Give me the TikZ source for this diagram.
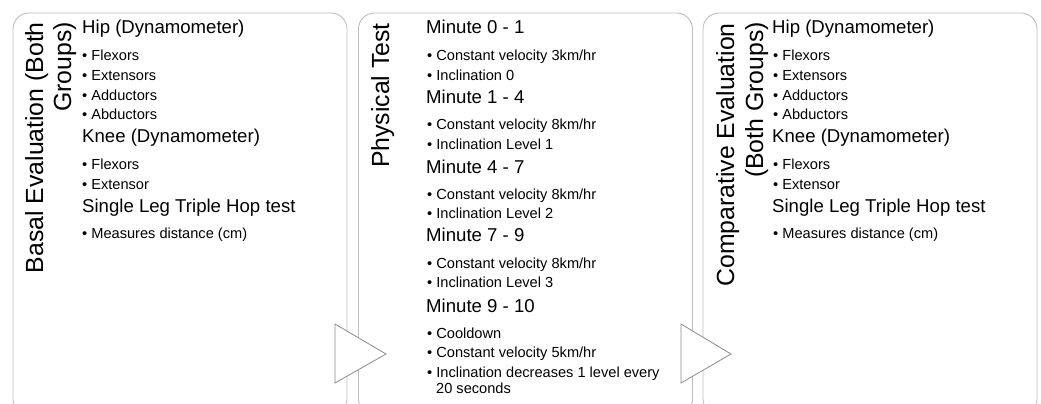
\documentclass[tikz,border=0pt]{standalone}
\usepackage{fontspec}
\setmainfont{Liberation Sans}
\definecolor{boxgray}{RGB}{190,190,190}
\definecolor{trigray}{RGB}{140,140,140}
\begin{document}
\begin{tikzpicture}[x=1pt,y=-1pt,
  panel/.style={draw=boxgray, line width=0.9pt, rounded corners=16pt, inner sep=0pt,
    minimum width=334pt, minimum height=402pt},
  head/.style={anchor=base west, inner sep=0pt, font=\fontsize{18.6}{22}\selectfont},
  item/.style={anchor=base west, inner sep=0pt, font=\fontsize{14.6}{17}\selectfont},
  vtitle/.style={anchor=base east, inner sep=0pt, rotate=90, font=\fontsize{24.8}{30}\selectfont},
  chevron/.style={draw=trigray, fill=white, line width=0.8pt, line join=miter}]
\useasboundingbox (0,0) rectangle (1041,404);
\clip (0,0) rectangle (1041,404);
\fill[white] (0,0) rectangle (1041,404);

% panels
\node[panel] (p1) at (180,214) {};
\node[panel] (p2) at (525.5,214) {};
\node[panel] (p3) at (870,214) {};

% arrows between panels
\draw[chevron] (335,324) coordinate (a1t) -- (386,354) coordinate (a1p) -- (335,383) coordinate (a1b) -- cycle;
\draw[chevron] (681,324) coordinate (a2t) -- (731,354) coordinate (a2p) -- (681,383) coordinate (a2b) -- cycle;

% panel 1
\node[vtitle] (t1a) at (43,22) {Basal Evaluation (Both};
\node[vtitle] (t1b) at (71,22) {Groups)};
\node[head] (h1a) at (82,34) {Hip (Dynamometer)};
\node[item] (i1a) at (82,61) {• Flexors};
\node[item] (i1b) at (82,81) {• Extensors};
\node[item] (i1c) at (82,100) {• Adductors};
\node[item] (i1d) at (82,119) {• Abductors};
\node[head] (h1b) at (82,142) {Knee (Dynamometer)};
\node[item] (i1e) at (82,169) {• Flexors};
\node[item] (i1f) at (82,189) {• Extensor};
\node[head] (h1c) at (82,212) {Single Leg Triple Hop test};
\node[item] (i1g) at (82,238) {• Measures distance (cm)};

% panel 2
\node[vtitle] (t2a) at (389,23) {Physical Test};
\node[head] (h2a) at (426,34) {Minute 0 - 1};
\node[item] (i2a) at (427,61) {• Constant velocity 3km/hr};
\node[item] (i2b) at (427,81) {• Inclination 0};
\node[head] (h2b) at (426,103) {Minute 1 - 4};
\node[item] (i2c) at (427,129) {• Constant velocity 8km/hr};
\node[item] (i2d) at (427,149) {• Inclination Level 1};
\node[head] (h2c) at (426,173) {Minute 4 - 7};
\node[item] (i2e) at (427,199) {• Constant velocity 8km/hr};
\node[item] (i2f) at (427,218) {• Inclination Level 2};
\node[head] (h2d) at (426,241) {Minute 7 - 9};
\node[item] (i2g) at (427,268) {• Constant velocity 8km/hr};
\node[item] (i2h) at (427,287) {• Inclination Level 3};
\node[head] (h2e) at (426,312) {Minute 9 - 10};
\node[item] (i2i) at (427,338) {• Cooldown};
\node[item] (i2j) at (427,357) {• Constant velocity 5km/hr};
\node[item] (i2k) at (427,377) {• Inclination decreases 1 level every};
\node[item] (i2l) at (436,393) {20 seconds};

% panel 3
\node[vtitle] (t3a) at (734,23) {Comparative Evaluation};
\node[vtitle] (t3b) at (763,22) {(Both Groups)};
\node[head] (h3a) at (772,34) {Hip (Dynamometer)};
\node[item] (i3a) at (773,61) {• Flexors};
\node[item] (i3b) at (773,81) {• Extensors};
\node[item] (i3c) at (773,100) {• Adductors};
\node[item] (i3d) at (773,119) {• Abductors};
\node[head] (h3b) at (772,142) {Knee (Dynamometer)};
\node[item] (i3e) at (773,169) {• Flexors};
\node[item] (i3f) at (773,189) {• Extensor};
\node[head] (h3c) at (772,212) {Single Leg Triple Hop test};
\node[item] (i3g) at (773,238) {• Measures distance (cm)};
\end{tikzpicture}
\end{document}
